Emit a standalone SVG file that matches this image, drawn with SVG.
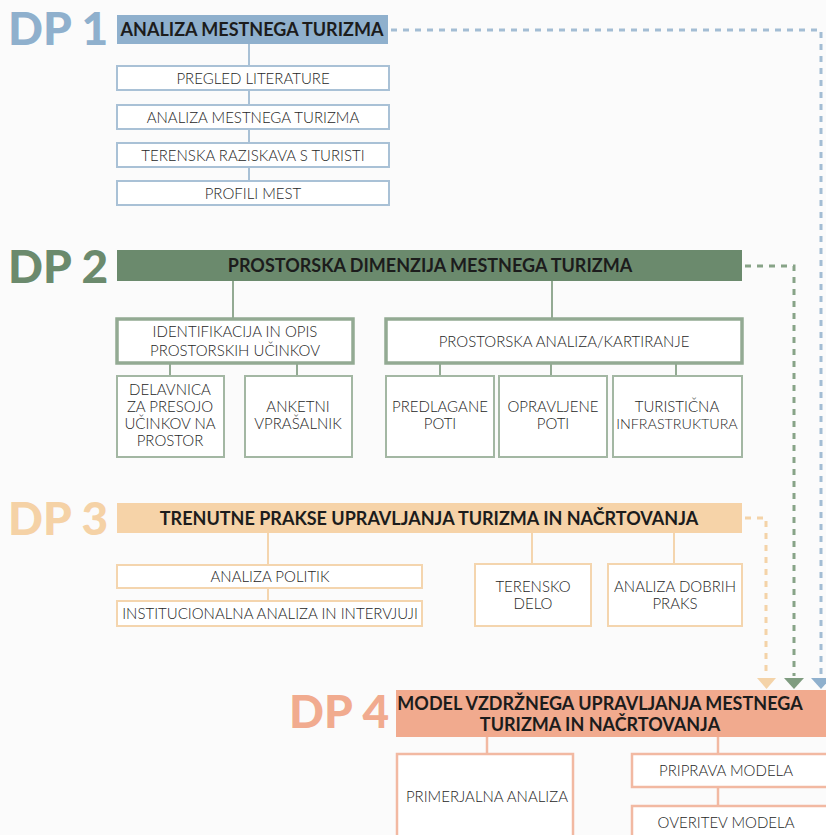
<svg xmlns="http://www.w3.org/2000/svg" width="826" height="835" viewBox="0 0 826 835">
<style>
text{font-family:Lato,"Open Sans","Liberation Sans",sans-serif;text-anchor:middle}
.dp{font-size:46px;font-weight:900;text-anchor:start}
.h{font-size:18px;font-weight:700;fill:#1c1c1c}
.t{font-size:15px;font-weight:300;fill:#262626}
.b1{fill:#fff;stroke:#a9c1d6;stroke-width:2}
.g1{fill:#fff;stroke:#93aa93;stroke-width:3.5}
.g2{fill:#fff;stroke:#a3b7a3;stroke-width:2}
.p1{fill:#fff;stroke:#f4d5ae;stroke-width:2}
.s1{fill:#fff;stroke:#f2b9a2;stroke-width:2.5}
.lb{stroke:#a9c1d6;stroke-width:2;fill:none}
.lg{stroke:#93aa93;stroke-width:2;fill:none}
.lp{stroke:#f4d5ae;stroke-width:2;fill:none}
.ls{stroke:#f2b9a2;stroke-width:2.5;fill:none}
.d{stroke-width:3;fill:none;stroke-dasharray:6 6}
</style>
<rect width="826" height="835" fill="#fbfbfb"/>
<g id="connectors">
<line class="lb" x1="249" y1="44" x2="249" y2="192"/>
<line class="lg" x1="233" y1="281" x2="233" y2="319"/>
<line class="lg" x1="552" y1="281" x2="552" y2="319"/>
<line class="lg" x1="170" y1="363" x2="170" y2="376"/>
<line class="lg" x1="297" y1="363" x2="297" y2="376"/>
<line class="lg" x1="440" y1="363" x2="440" y2="376"/>
<line class="lg" x1="551" y1="363" x2="551" y2="376"/>
<line class="lg" x1="676" y1="363" x2="676" y2="376"/>
<line class="lp" x1="268" y1="533" x2="268" y2="601"/>
<line class="lp" x1="532" y1="533" x2="532" y2="564"/>
<line class="lp" x1="674" y1="533" x2="674" y2="564"/>
<line class="ls" x1="487" y1="737" x2="487" y2="754"/>
<line class="ls" x1="718" y1="737" x2="718" y2="806"/>
<polyline class="d" stroke="#a3bdd4" points="391,30 821,30 821,676"/>
<polyline class="d" stroke="#87a387" points="745,266 794,266 794,676"/>
<polyline class="d" stroke="#f4d3a8" points="745,518 766,518 766,676"/>
<polygon points="757,678 776,678 766.5,689" fill="#f4d3a8"/>
<polygon points="784,678 804,678 794,689" fill="#7f9c80"/>
<polygon points="811,678 831,678 821,689" fill="#8fb0cd"/>
</g>
<g id="dp1">
<text class="dp" x="8" y="45" fill="#8fb0cd">DP 1</text>
<rect x="117" y="15" width="271" height="29" fill="#8fb0cd"/>
<text class="h" x="252" y="36">ANALIZA MESTNEGA TURIZMA</text>
</g>
<g id="dp1-a"><rect class="b1" x="117" y="66" width="272" height="24"/><text class="t" x="253" y="83.5">PREGLED LITERATURE</text></g>
<g id="dp1-b"><rect class="b1" x="117" y="105" width="272" height="24"/><text class="t" x="253" y="122.5">ANALIZA MESTNEGA TURIZMA</text></g>
<g id="dp1-c"><rect class="b1" x="117" y="143" width="272" height="24"/><text class="t" x="253" y="160.5">TERENSKA RAZISKAVA S TURISTI</text></g>
<g id="dp1-d"><rect class="b1" x="117" y="181" width="272" height="24"/><text class="t" x="253" y="198.5">PROFILI MEST</text></g>
<g id="dp2">
<text class="dp" x="8" y="283" fill="#6b8a6d">DP 2</text>
<rect x="117" y="250" width="625" height="31" fill="#6b8a6d"/>
<text class="h" x="430" y="272">PROSTORSKA DIMENZIJA MESTNEGA TURIZMA</text>
</g>
<g id="dp2-a"><rect class="g1" x="117" y="319" width="236" height="44"/><text class="t" x="235" y="337">IDENTIFIKACIJA IN OPIS</text><text class="t" x="235" y="356">PROSTORSKIH UČINKOV</text></g>
<g id="dp2-b"><rect class="g1" x="386" y="319" width="356" height="44"/><text class="t" x="564" y="347">PROSTORSKA ANALIZA/KARTIRANJE</text></g>
<g id="dp2-a1"><rect class="g2" x="117" y="376" width="107" height="81"/><text class="t" x="170" y="395">DELAVNICA</text><text class="t" x="170" y="412">ZA PRESOJO</text><text class="t" x="170" y="429">UČINKOV NA</text><text class="t" x="170" y="446">PROSTOR</text></g>
<g id="dp2-a2"><rect class="g2" x="245" y="376" width="107" height="81"/><text class="t" x="298" y="412">ANKETNI</text><text class="t" x="298" y="429">VPRAŠALNIK</text></g>
<g id="dp2-b1"><rect class="g2" x="386" y="376" width="108" height="81"/><text class="t" x="440" y="412">PREDLAGANE</text><text class="t" x="440" y="429">POTI</text></g>
<g id="dp2-b2"><rect class="g2" x="499" y="376" width="108" height="81"/><text class="t" x="553" y="412">OPRAVLJENE</text><text class="t" x="553" y="429">POTI</text></g>
<g id="dp2-b3"><rect class="g2" x="613" y="376" width="129" height="81"/><text class="t" x="677" y="412">TURISTIČNA</text><text class="t" x="677" y="429" style="font-size:14.3px">INFRASTRUKTURA</text></g>
<g id="dp3">
<text class="dp" x="8" y="535" fill="#f5d2a6">DP 3</text>
<rect x="117" y="503" width="625" height="30" fill="#f6d3a8"/>
<text class="h" x="429" y="525">TRENUTNE PRAKSE UPRAVLJANJA TURIZMA IN NAČRTOVANJA</text>
</g>
<g id="dp3-a"><rect class="p1" x="117" y="565" width="305" height="23"/><text class="t" x="270" y="582">ANALIZA POLITIK</text></g>
<g id="dp3-b"><rect class="p1" x="117" y="601" width="305" height="25"/><text class="t" x="270" y="618.5">INSTITUCIONALNA ANALIZA IN INTERVJUJI</text></g>
<g id="dp3-c"><rect class="p1" x="475" y="564" width="116" height="62"/><text class="t" x="533" y="592">TERENSKO</text><text class="t" x="533" y="609">DELO</text></g>
<g id="dp3-d"><rect class="p1" x="608" y="564" width="134" height="62"/><text class="t" x="675" y="592">ANALIZA DOBRIH</text><text class="t" x="675" y="609">PRAKS</text></g>
<g id="dp4">
<text class="dp" x="289" y="728" fill="#f1ab8f">DP 4</text>
<rect x="396" y="690" width="435" height="47" fill="#f1aa8e"/>
<text class="h" x="600" y="710">MODEL VZDRŽNEGA UPRAVLJANJA MESTNEGA</text>
<text class="h" x="600" y="731">TURIZMA IN NAČRTOVANJA</text>
</g>
<g id="dp4-a"><rect class="s1" x="397" y="754" width="176" height="90"/><text class="t" x="487" y="802">PRIMERJALNA ANALIZA</text></g>
<g id="dp4-b"><rect class="s1" x="632" y="754" width="200" height="33"/><text class="t" x="726" y="776">PRIPRAVA MODELA</text></g>
<g id="dp4-c"><rect class="s1" x="632" y="806" width="200" height="40"/><text class="t" x="726" y="828">OVERITEV MODELA</text></g>
</svg>
